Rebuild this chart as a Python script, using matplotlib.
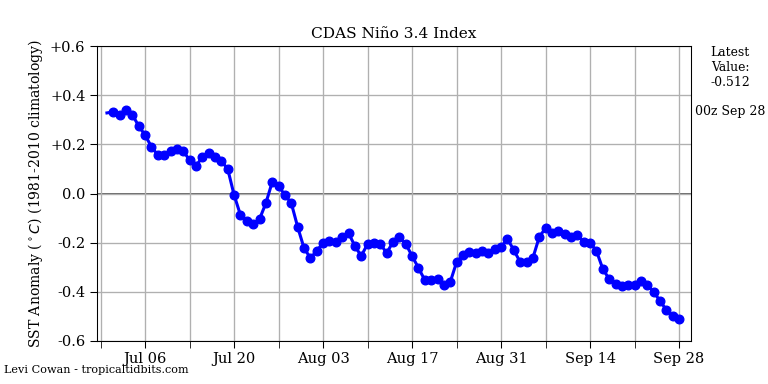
import datetime as dt
import matplotlib
matplotlib.use('Agg')
import matplotlib.pyplot as plt
import matplotlib.dates as mdates

plt.rcParams['font.family'] = 'DejaVu Serif'

start_day = dt.datetime(2017, 6, 30)
nino34 = [0.328, 0.332, 0.320, 0.340, 0.320, 0.275, 0.238, 0.190, 0.157, 0.157,
          0.173, 0.180, 0.173, 0.136, 0.112, 0.148, 0.165, 0.148, 0.132, 0.100,
          -0.006, -0.087, -0.110, -0.124, -0.104, -0.039, 0.047, 0.030, -0.006, -0.039,
          -0.136, -0.222, -0.262, -0.234, -0.200, -0.193, -0.197, -0.177, -0.160, -0.214,
          -0.254, -0.205, -0.200, -0.205, -0.242, -0.197, -0.177, -0.205, -0.254, -0.303,
          -0.352, -0.352, -0.348, -0.372, -0.360, -0.279, -0.250, -0.238, -0.242, -0.234,
          -0.242, -0.226, -0.218, -0.185, -0.230, -0.279, -0.279, -0.262, -0.177, -0.140,
          -0.160, -0.152, -0.165, -0.177, -0.169, -0.197, -0.200, -0.234, -0.307, -0.348,
          -0.368, -0.376, -0.372, -0.372, -0.356, -0.372, -0.400, -0.437, -0.474, -0.498,
          -0.512]
dates = [start_day + dt.timedelta(days=i) for i in range(len(nino34))]
yticks = [-0.6, -0.4, -0.2, 0.0, 0.2, 0.4, 0.6]
ytick_labels = ['-0.6', '-0.4', '-0.2', '0.0', '+0.2', '+0.4', '+0.6']
latest = nino34[-1]

fig = plt.figure(figsize=(8, 4), dpi=96)
ax = fig.add_axes([0.126, 0.112, 0.774, 0.768])

ax.axhline(0, color='#444444', linewidth=1.2, zorder=1)
ax.plot(dates, nino34, color='blue', linewidth=2.3, marker='o', markersize=6.5,
        markevery=list(range(1, len(nino34))), zorder=3)

ax.set_xlim(dates[0] - dt.timedelta(days=1.6), dates[-1] + dt.timedelta(days=1.9))
ax.set_ylim(-0.6, 0.6)
ax.set_yticks(yticks)
ax.set_yticklabels(ytick_labels, size=11)

# labelled ticks every two weeks, unlabelled ones in between
major = [dt.datetime(2017, 7, 6) + dt.timedelta(days=14 * k) for k in range(7)]
minor = [dt.datetime(2017, 6, 29) + dt.timedelta(days=14 * k) for k in range(7)]
ax.set_xticks(major)
ax.set_xticks(minor, minor=True)
ax.xaxis.set_major_formatter(mdates.DateFormatter('%b %d'))
ax.tick_params(axis='x', which='both', length=5, labelsize=11)
ax.tick_params(axis='y', length=5)
ax.grid(True, which='both', axis='x', color='#b0b0b0', linewidth=1)
ax.grid(True, which='major', axis='y', color='#b0b0b0', linewidth=1)

ax.set_ylabel(r'SST Anomaly ($^\circ C$) (1981-2010 climatology)', size=10.5)
ax.set_title('CDAS Niño 3.4 Index', size=11.5)

fig.text(0.951, 0.88, 'Latest\nValue:\n{:.3f}'.format(latest), ha='center', va='top', size=9.3)
fig.text(0.951, 0.71, '00z Sep 28', ha='center', va='center', size=9.4)
fig.text(0.005, 0.037, 'Levi Cowan - tropicaltidbits.com', ha='left', va='center', size=8.4)

fig.savefig('out.png', dpi=96)
